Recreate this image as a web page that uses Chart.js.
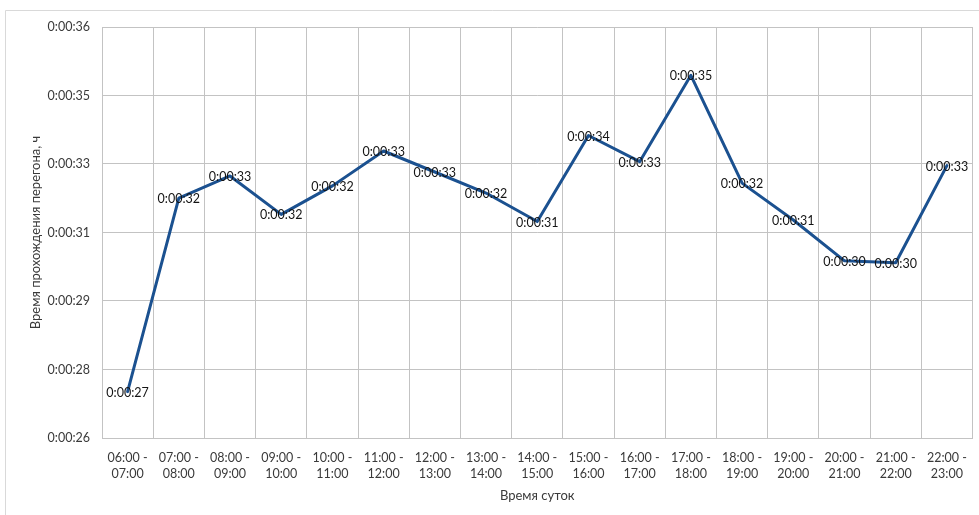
<!DOCTYPE html>
<html>
<head>
<meta charset="utf-8">
<title>Время прохождения перегона</title>
<script src="https://cdn.jsdelivr.net/npm/chart.js@4.4.1/dist/chart.umd.min.js"></script>
<style>
  html, body { margin: 0; padding: 0; background: #fff; overflow: hidden; }
  canvas { display: block; }
</style>
</head>
<body>
<canvas id="chart" width="979" height="515"></canvas>
<script>
// Hourly intervals of the day
const intervals = [
  '06:00 - 07:00', '07:00 - 08:00', '08:00 - 09:00', '09:00 - 10:00',
  '10:00 - 11:00', '11:00 - 12:00', '12:00 - 13:00', '13:00 - 14:00',
  '14:00 - 15:00', '15:00 - 16:00', '16:00 - 17:00', '17:00 - 18:00',
  '18:00 - 19:00', '19:00 - 20:00', '20:00 - 21:00', '21:00 - 22:00',
  '22:00 - 23:00'
];

// Average travel time over the section, seconds
const travelSeconds = [
  27.09, 31.97, 32.53, 31.56, 32.28, 33.16, 32.63, 32.10,
  31.38, 33.55, 32.89, 35.07, 32.35, 31.42, 30.39, 30.34, 32.79
];

// Value-axis ticks, seconds (0.00002-day steps from 0.0003 day)
const yTickSeconds = [25.92, 27.648, 29.376, 31.104, 32.832, 34.56, 36.288];

const FONT = 'Lato, "Open Sans", sans-serif';
const TEXT = '#3a3a3a';
const LABEL = '#141414';
const GRID = '#c3c3c3';
const LINE = '#1b5190';

function fmtTime(sec) {
  const s = Math.round(sec);
  const h = Math.floor(s / 3600);
  const m = Math.floor((s % 3600) / 60);
  const ss = s % 60;
  return h + ':' + String(m).padStart(2, '0') + ':' + String(ss).padStart(2, '0');
}

// Light frame around the whole chart object
const frame = {
  id: 'frame',
  beforeDraw(chart) {
    const ctx = chart.ctx;
    ctx.save();
    ctx.fillStyle = '#fff';
    ctx.fillRect(0, 0, chart.width, chart.height);
    ctx.strokeStyle = '#d9d9d9';
    ctx.lineWidth = 1;
    ctx.beginPath();
    ctx.moveTo(5.5, chart.height);
    ctx.lineTo(5.5, 10.5);
    ctx.lineTo(chart.width, 10.5);
    ctx.stroke();
    ctx.restore();
  }
};

// Value labels centred on each point
const pointLabels = {
  id: 'pointLabels',
  afterDatasetsDraw(chart) {
    const ctx = chart.ctx;
    const meta = chart.getDatasetMeta(0);
    const values = chart.data.datasets[0].data;
    ctx.save();
    ctx.font = '12.5px ' + FONT;
    ctx.fillStyle = LABEL;
    ctx.textAlign = 'center';
    ctx.textBaseline = 'middle';
    meta.data.forEach((pt, i) => {
      ctx.fillText(fmtTime(values[i]), pt.x, pt.y + 1);
    });
    ctx.restore();
  }
};

new Chart(document.getElementById('chart'), {
  type: 'line',
  data: {
    labels: intervals.map(t => { const p = t.split(' - '); return [p[0] + ' -', p[1]]; }),
    datasets: [{
      data: travelSeconds,
      borderColor: LINE,
      borderWidth: 3,
      borderJoinStyle: 'round',
      borderCapStyle: 'round',
      pointRadius: 0,
      pointHoverRadius: 0,
      tension: 0,
      fill: false
    }]
  },
  options: {
    responsive: false,
    animation: false,
    devicePixelRatio: 1,
    layout: { padding: { left: 0, top: 27, right: 3, bottom: 0 } },
    plugins: {
      legend: { display: false },
      tooltip: { enabled: false }
    },
    scales: {
      x: {
        offset: true,
        grid: { offset: true, color: GRID, lineWidth: 1, drawTicks: false },
        border: { color: GRID, width: 1 },
        ticks: {
          color: TEXT,
          font: { family: FONT, size: 12.5, lineHeight: 1.3 },
          padding: 12,
          maxRotation: 0,
          autoSkip: false
        },
        title: {
          display: true,
          text: 'Время суток',
          color: TEXT,
          font: { family: FONT, size: 13 },
          padding: { top: 0, bottom: 11 }
        },
        afterFit(scale) { scale.height = 77; }
      },
      y: {
        min: yTickSeconds[0],
        max: yTickSeconds[yTickSeconds.length - 1],
        afterBuildTicks(scale) { scale.ticks = yTickSeconds.map(v => ({ value: v })); },
        grid: { color: GRID, lineWidth: 1, drawTicks: false },
        border: { color: GRID, width: 1 },
        ticks: {
          color: TEXT,
          font: { family: FONT, size: 12.5 },
          padding: 12,
          callback: v => fmtTime(v)
        },
        title: {
          display: true,
          text: 'Время прохождения перегона, ч',
          color: TEXT,
          font: { family: FONT, size: 13 },
          padding: { top: 28, bottom: 0 }
        },
        afterFit(scale) { scale.width = 102; }
      }
    }
  },
  plugins: [frame, pointLabels]
});
</script>
</body>
</html>
